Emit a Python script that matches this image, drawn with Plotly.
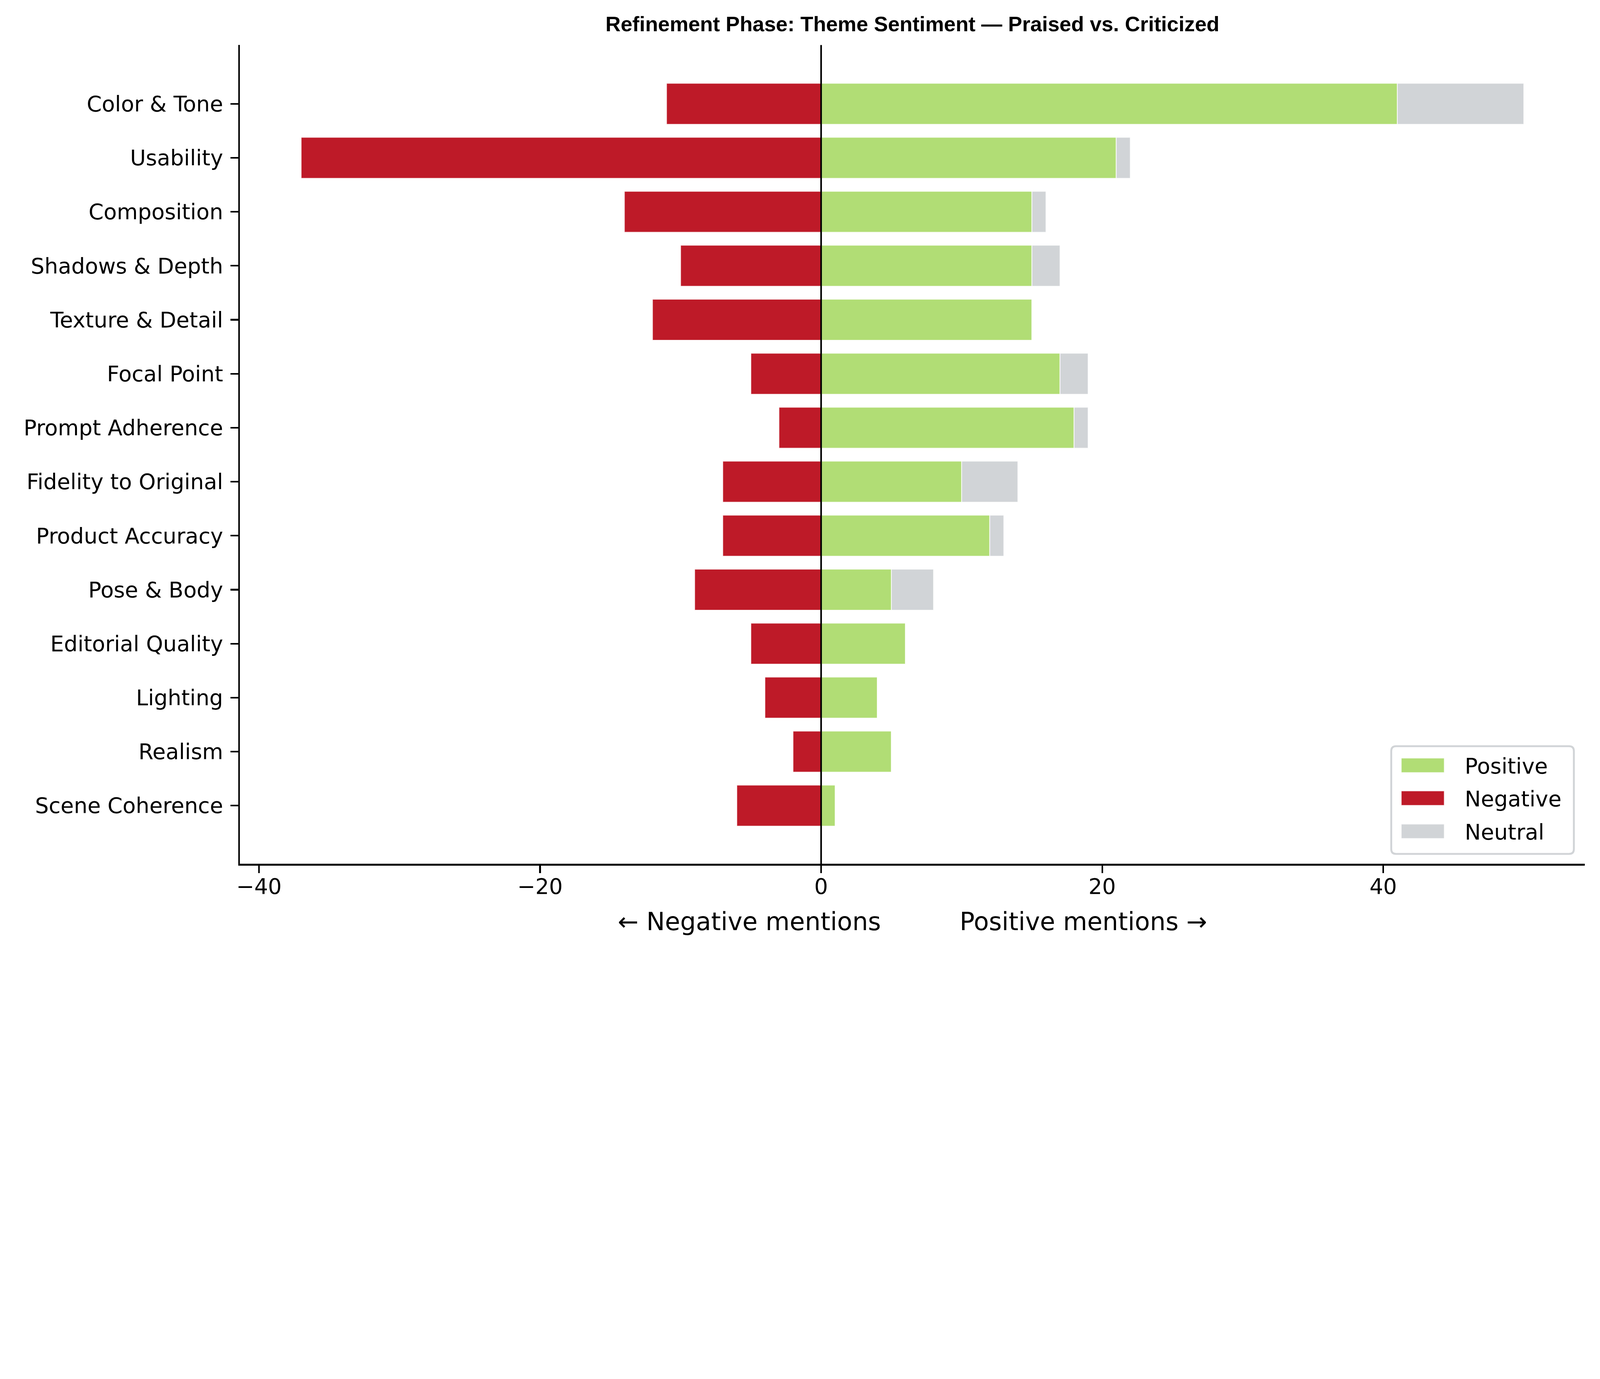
import plotly.graph_objects as go

# ---------------- data ----------------
categories = ["Color & Tone", "Usability", "Composition", "Shadows & Depth",
              "Texture & Detail", "Focal Point", "Prompt Adherence",
              "Fidelity to Original", "Product Accuracy", "Pose & Body",
              "Editorial Quality", "Lighting", "Realism", "Scene Coherence"]
positive = [41, 21, 15, 15, 15, 17, 18, 10, 12, 5, 6, 4, 5, 1]
negative = [11, 37, 14, 10, 12, 5, 3, 7, 7, 9, 5, 4, 2, 6]
neutral = [9, 1, 1, 2, 0, 2, 1, 4, 1, 3, 0, 0, 0, 0]
x_tick_vals = [-40, -20, 0, 20, 40]
x_tick_text = ["\u221240", "\u221220", "0", "20", "40"]
legend_labels = ["Positive", "Negative", "Neutral"]
title_text = "Refinement Phase: Theme Sentiment \u2014 Praised vs. Criticized"
x_title = "\u2190 Negative mentions" + "\u00a0" * 10 + "Positive mentions \u2192"

# ---------------- style ----------------
POS = "#b1dd75"
NEG = "#be1a28"
NEU = "#d1d4d7"
EDGE = "rgba(255,255,255,0.8)"

W, H = 5940, 3530
L, R, T, B = 891, 5884, 167, 3207          # plot area in pixels

TICK_FONT = dict(family="DejaVu Sans", size=80, color="black")


def px(x):
    return (x - L) / (R - L)


def py(y):
    return (B - y) / (B - T)


neg_vals = [-v for v in negative]
bar_line = dict(color=EDGE, width=3)

fig = go.Figure()
fig.add_trace(go.Bar(y=categories, x=neg_vals, orientation="h", name="Negative",
                     marker=dict(color=NEG, line=bar_line), width=0.76, showlegend=False))
fig.add_trace(go.Bar(y=categories, x=positive, orientation="h", name="Positive",
                     marker=dict(color=POS, line=bar_line), width=0.76, showlegend=False))
fig.add_trace(go.Bar(y=categories, x=neutral, base=positive, orientation="h", name="Neutral",
                     marker=dict(color=NEU, line=bar_line), width=0.76, showlegend=False))

shapes = []
# zero reference line
shapes.append(dict(type="line", xref="x", yref="paper", x0=0, x1=0, y0=0, y1=1,
                   line=dict(color="black", width=6), layer="above"))

# custom legend (lower right, rounded frame)
bx0, bx1, by0, by1 = 5165, 5843, 2770, 3170
r = 18
rx = r / (R - L)
ry = r / (B - T)
X0, X1, Y0, Y1 = px(bx0), px(bx1), py(by1), py(by0)
path = (f"M{X0+rx},{Y0} L{X1-rx},{Y0} Q{X1},{Y0} {X1},{Y0+ry} "
        f"L{X1},{Y1-ry} Q{X1},{Y1} {X1-rx},{Y1} L{X0+rx},{Y1} "
        f"Q{X0},{Y1} {X0},{Y1-ry} L{X0},{Y0+ry} Q{X0},{Y0} {X0+rx},{Y0} Z")
shapes.append(dict(type="path", xref="paper", yref="paper", path=path,
                   fillcolor="rgba(255,255,255,0.8)", line=dict(color="#d1d4d7", width=7),
                   layer="above"))
row_centers = [2841, 2963, 3086]
sw_colors = [POS, NEG, NEU]
annotations = []
for lab, col, yc in zip(legend_labels, sw_colors, row_centers):
    shapes.append(dict(type="rect", xref="paper", yref="paper",
                       x0=px(5202), x1=px(5362), y0=py(yc + 27), y1=py(yc - 27),
                       fillcolor=col, line=dict(color=EDGE, width=3), layer="above"))
    annotations.append(dict(xref="paper", yref="paper", x=px(5436), y=py(yc + 2),
                            xanchor="left", yanchor="middle", text=lab, showarrow=False,
                            font=TICK_FONT))

fig.update_layout(
    width=W, height=H,
    template="none",
    paper_bgcolor="white", plot_bgcolor="white",
    barmode="overlay",
    margin=dict(l=L, r=W - R, t=T, b=H - B, pad=0),
    title=dict(text=title_text, x=(L + R) / 2 / W, xanchor="center",
               y=1 - 88 / H, yanchor="middle",
               font=dict(family="Liberation Sans", size=78, color="black", weight="bold")),
    shapes=shapes,
    annotations=annotations,
    showlegend=False,
)

fig.update_xaxes(
    range=[-41.35, 54.35],
    tickvals=x_tick_vals, ticktext=x_tick_text,
    showgrid=False, zeroline=False,
    showline=True, linecolor="black", linewidth=6.5,
    ticks="outside", ticklen=28, tickwidth=6, tickcolor="black",
    ticklabelstandoff=-20,
    tickfont=TICK_FONT,
    title=dict(text=x_title, font=dict(family="DejaVu Sans", size=92, color="black"),
               standoff=55),
)
fig.update_yaxes(
    type="category",
    categoryorder="array", categoryarray=categories,
    range=[14.08, -1.09],
    showgrid=False, zeroline=False,
    showline=True, linecolor="black", linewidth=6.5,
    ticks="outside", ticklen=28, tickwidth=6, tickcolor="black",
    ticklabelstandoff=12,
    tickfont=TICK_FONT,
)

# fit the 5940x3530 figure into the browser window if the window is smaller
fit_js = """
var gd = document.getElementById('{plot_id}');
document.documentElement.style.margin = '0';
document.body.style.margin = '0';
document.documentElement.style.overflow = 'hidden';
document.body.style.overflow = 'hidden';
var sc = Math.min(window.innerWidth / 5940, window.innerHeight / 3530);
if (sc < 1) {
  gd.style.transformOrigin = '0 0';
  gd.style.transform = 'scale(' + sc + ')';
}
"""

fig.write_html("out.html", post_script=fit_js, config={"displayModeBar": False})
